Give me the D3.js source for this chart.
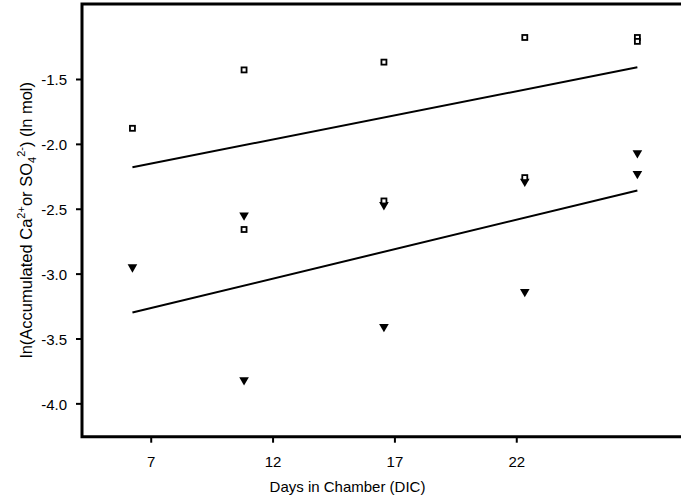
<!DOCTYPE html>
<html lang="en">
<head>
  <meta charset="UTF-8">
  <title>Accumulated Ca and SO4</title>
  <script src="https://cdn.jsdelivr.net/npm/d3@7"></script>
  <style>
    body { margin: 0; background: #fff; }
    svg { display: block; font-family: "Liberation Sans", Arial, sans-serif; }
  </style>
</head>
<body>
<div id="chart"></div>

<script>
  // data (x in axis units, y in ln mol)
  const xTicks = [7, 12, 17, 22]
  const yTicks = [-1.5, -2.0, -2.5, -3.0, -3.5, -4.0]

  const caDays = [6.25, 10.83, 10.83, 16.57, 16.57, 22.35, 22.35, 26.97, 26.97]
  const caValues = [-1.88, -1.43, -2.66, -1.37, -2.44, -1.18, -2.26, -1.18, -1.21]

  const so4Days = [6.25, 10.83, 10.83, 16.57, 16.57, 22.35, 22.35, 26.97, 26.97]
  const so4Values = [-2.95, -2.55, -3.82, -2.47, -3.41, -2.29, -3.14, -2.07, -2.23]

  const fitDays = [6.25, 26.97]
  const caFit = [-2.18, -1.41]
  const so4Fit = [-3.30, -2.36]

  // layout
  const width = 681
  const height = 500
  const plotLeft = 82
  const plotTop = 4
  const plotBottom = 436.7
  const fontFamily = '"Liberation Sans", Arial, sans-serif'

  const svg = d3.select('#chart')
  .append('svg')
  .attr('width', width)
  .attr('height', height)

  const x = d3.scaleLinear()
  .domain([4.18, 28.76])
  .range([plotLeft, width])

  const y = d3.scaleLinear()
  .domain([-0.922, -4.257])
  .range([plotTop, plotBottom])

  // axes (plain hyphen for the minus sign, as in the original)
  svg.append('g')
  .attr('transform', `translate(0,${plotBottom})`)
  .call(d3.axisBottom(x).tickValues(xTicks).tickFormat(d => String(d)).tickSize(6).tickPadding(13.6))
  .call(g => g.select('.domain').remove())
  .call(g => g.selectAll('.tick line').attr('stroke', '#000').attr('stroke-width', 2))
  .call(g => g.selectAll('.tick text').attr('font-size', 15).attr('fill', '#000')
  .attr('font-family', fontFamily))

  svg.append('g')
  .attr('transform', `translate(${plotLeft},0)`)
  .call(d3.axisLeft(y).tickValues(yTicks).tickFormat(d => d.toFixed(1)).tickSize(6).tickPadding(9))
  .call(g => g.select('.domain').remove())
  .call(g => g.selectAll('.tick line').attr('stroke', '#000').attr('stroke-width', 2))
  .call(g => g.selectAll('.tick text').attr('font-size', 15).attr('fill', '#000').attr('dy', '0.4em')
  .attr('font-family', fontFamily))

  // frame: left, top and bottom lines
  svg.append('path')
  .attr('d', `M${width},${plotTop}H${plotLeft}V${plotBottom}H${width}`)
  .attr('stroke', '#000')
  .attr('stroke-width', 3)
  .attr('fill', 'none')

  // fit lines
  const line = d3.line().x(d => x(d[0])).y(d => y(d[1]))
  svg.append('g')
  .attr('fill', 'none')
  .attr('stroke', '#000')
  .attr('stroke-width', 2)
  .selectAll('path')
  .data([d3.zip(fitDays, caFit), d3.zip(fitDays, so4Fit)])
  .join('path')
  .attr('d', line)

  // SO4 points: filled down triangles
  const tri = d3.symbol(d3.symbolTriangle, 40)
  svg.append('g')
  .selectAll('path')
  .data(d3.zip(so4Days, so4Values))
  .join('path')
  .attr('transform', d => `translate(${x(d[0])},${y(d[1])}) rotate(180)`)
  .attr('d', tri)
  .attr('fill', '#000')

  // Ca points: open squares
  svg.append('g')
  .selectAll('rect')
  .data(d3.zip(caDays, caValues))
  .join('rect')
  .attr('x', d => x(d[0]) - 2.5)
  .attr('y', d => y(d[1]) - 2.5)
  .attr('width', 5)
  .attr('height', 5)
  .attr('fill', '#fff')
  .attr('stroke', '#000')
  .attr('stroke-width', 1.8)

  // axis titles
  svg.append('text')
  .attr('x', 347.5)
  .attr('y', 491.7)
  .attr('text-anchor', 'middle')
  .attr('font-size', 15)
  .text('Days in Chamber (DIC)')

  const yTitle = svg.append('text')
  .attr('transform', 'translate(32,220) rotate(-90)')
  .attr('text-anchor', 'middle')
  .attr('font-size', 16.5)
  yTitle.append('tspan').text('ln(Accumulated Ca')
  yTitle.append('tspan').attr('font-size', 11).attr('dy', -7).text('2+')
  yTitle.append('tspan').attr('dy', 7).text('or SO')
  yTitle.append('tspan').attr('font-size', 11).attr('dy', 4).text('4')
  yTitle.append('tspan').attr('font-size', 11).attr('dy', -11).text('2-')
  yTitle.append('tspan').attr('dy', 7).text(') (ln mol)')
</script>
</body>
</html>
